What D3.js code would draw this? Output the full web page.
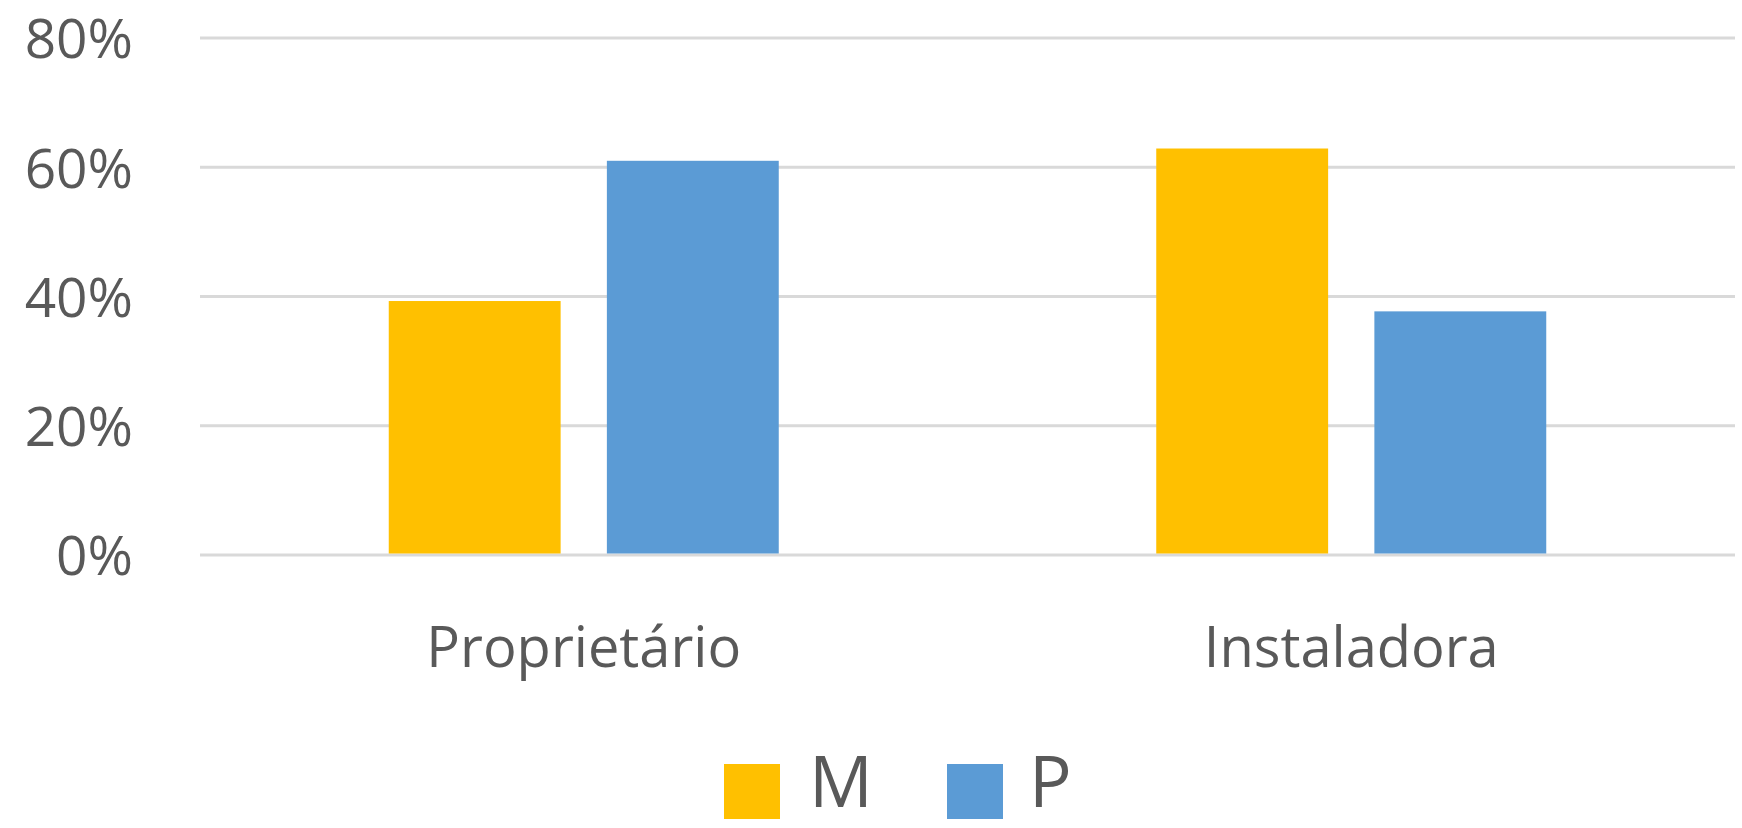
<!DOCTYPE html>
<html><head><meta charset="utf-8">
<script src="https://cdn.jsdelivr.net/npm/d3@7"></script>
<style>html,body{margin:0;padding:0;background:#fff;}svg{display:block;}</style>
</head><body>
<svg id="chart" width="1742" height="828"></svg>
<script>
const categories = ["Proprietário", "Instaladora"];
const seriesNames = ["M", "P"];
const valuesM = [0.393, 0.629];
const valuesP = [0.610, 0.377];
const tickValues = [0, 0.2, 0.4, 0.6, 0.8];
const colors = {M: "#FFC000", P: "#5B9BD5"};

const data = categories.map((c, i) => ({cat: c, M: valuesM[i], P: valuesP[i]}));
const svg = d3.select("#chart");
const font = "'Open Sans', 'Noto Sans', sans-serif";
const textColor = "#595959";

const plot = {left: 200, right: 1735, top: 38, bottom: 555};
const x0 = d3.scaleBand().domain(categories).range([plot.left, plot.right]).padding(0);
const y = d3.scaleLinear().domain([0, 0.8]).range([plot.bottom, plot.top]);
const groupW = 390;
const x1 = d3.scaleBand().domain(seriesNames).range([-groupW/2, groupW/2]).paddingInner(0.212).paddingOuter(0);

// gridlines
svg.append("g").selectAll("line").data(tickValues).join("line")
  .attr("x1", plot.left).attr("x2", plot.right)
  .attr("y1", d => y(d)).attr("y2", d => y(d))
  .attr("stroke", "#d9d9d9").attr("stroke-width", 3);

// y axis labels
const yAxis = d3.axisLeft(y).tickValues(tickValues).tickFormat(d3.format(".0%")).tickSize(0).tickPadding(0);
const ya = svg.append("g").attr("transform", `translate(133,0)`).call(yAxis);
ya.select(".domain").remove();
ya.selectAll("text").attr("font-family", font).attr("font-size", 55).attr("fill", textColor).attr("dy", "0.36em");

// bars
const groups = svg.append("g").selectAll("g").data(data).join("g")
  .attr("transform", d => `translate(${x0(d.cat) + x0.bandwidth()/2},0)`);
groups.selectAll("rect").data(d => seriesNames.map(s => ({s, v: d[s]}))).join("rect")
  .attr("x", d => x1(d.s)).attr("width", x1.bandwidth())
  .attr("y", d => y(d.v)).attr("height", d => y(0) - y(d.v) - 1.5)
  .attr("fill", d => colors[d.s]);

// x axis labels
const xAxis = d3.axisBottom(x0).tickSize(0).tickPadding(0);
const xa = svg.append("g").attr("transform", `translate(0,667)`).call(xAxis);
xa.select(".domain").remove();
xa.selectAll("text").attr("font-family", font).attr("font-size", 56).attr("fill", textColor).attr("dy", 0);

// legend
const legendItems = [{s: "M", sx: 724, tx: 809}, {s: "P", sx: 947, tx: 1029}];
const lg = svg.append("g");
legendItems.forEach(it => {
  lg.append("rect").attr("x", it.sx).attr("y", 764).attr("width", 56).attr("height", 55).attr("fill", colors[it.s]);
  lg.append("text").attr("x", it.tx).attr("y", 807).text(it.s)
    .attr("font-family", font).attr("font-size", 71).attr("fill", textColor);
});
</script>
</body></html>
